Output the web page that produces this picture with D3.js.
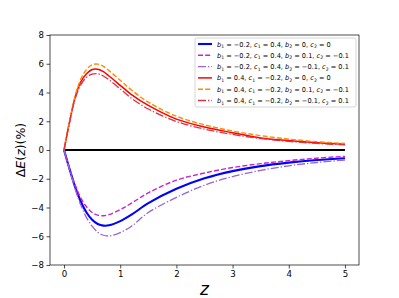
<!DOCTYPE html>
<html>
<head>
<meta charset="utf-8">
<script src="https://cdn.jsdelivr.net/npm/d3@7"></script>
<style>
  body { margin: 0; background: #fff; }
  svg { display: block; font-family: "DejaVu Sans", sans-serif; }
</style>
</head>
<body>
<svg id="chart" width="399" height="298"></svg>
<script>
// z nodes and read-off values (percent)
var zVals = [0, 0.1, 0.2, 0.3, 0.4, 0.5, 0.6, 0.7, 0.8, 1.0, 1.2, 1.5, 2.0, 2.5, 3.0, 3.5, 4.0, 4.5, 5.0];

var blueSolid = [0, -1.35, -2.6, -3.6, -4.35, -4.85, -5.15, -5.26, -5.24, -4.95, -4.5, -3.7, -2.7, -1.97, -1.47, -1.12, -0.88, -0.7, -0.57];
var magentaDash = [0, -1.3, -2.45, -3.35, -3.95, -4.35, -4.53, -4.57, -4.5, -4.15, -3.7, -2.98, -2.1, -1.6, -1.22, -0.95, -0.74, -0.57, -0.44];
var purpleDashDot = [0, -1.4, -2.75, -3.85, -4.7, -5.3, -5.72, -5.93, -5.98, -5.75, -5.3, -4.35, -3.3, -2.45, -1.85, -1.42, -1.1, -0.87, -0.7];
var redSolid = [0, 2.0, 3.7, 4.75, 5.3, 5.6, 5.62, 5.45, 5.15, 4.5, 3.85, 3.1, 2.15, 1.6, 1.2, 0.84, 0.66, 0.51, 0.4];
var orangeDash = [0, 2.05, 3.8, 4.95, 5.6, 5.93, 5.97, 5.82, 5.52, 4.85, 4.17, 3.33, 2.35, 1.75, 1.32, 1.0, 0.76, 0.58, 0.45];
var redDashDot = [0, 1.95, 3.6, 4.55, 5.05, 5.27, 5.3, 5.15, 4.88, 4.25, 3.6, 2.85, 1.98, 1.45, 1.08, 0.8, 0.6, 0.46, 0.36];

var xTicks = [0, 1, 2, 3, 4, 5];
var yTicks = [-8, -6, -4, -2, 0, 2, 4, 6, 8];

// legend labels: [b1, c1, b2, c2]
var labelParams = [
    ["\u22120.2", "0.4", "0", "0"],
    ["\u22120.2", "0.4", "0.1", "\u22120.1"],
    ["\u22120.2", "0.4", "\u22120.1", "0.1"],
    ["0.4", "\u22120.2", "0", "0"],
    ["0.4", "\u22120.2", "0.1", "\u22120.1"],
    ["0.4", "\u22120.2", "\u22120.1", "0.1"]
];

var series = [
    { values: blueSolid, color: "#0000ff", width: 2.1, dash: null },
    { values: magentaDash, color: "#cc22cc", width: 1.4, dash: "5,2.2" },
    { values: purpleDashDot, color: "#9966cc", width: 1.3, dash: "8,2,1.3,2" },
    { values: redSolid, color: "#ff0000", width: 1.5, dash: null },
    { values: orangeDash, color: "#ff8c00", width: 1.4, dash: "5,2.2" },
    { values: redDashDot, color: "#dd3344", width: 1.3, dash: "8,2,1.3,2" }
];

var margin = { top: 35, right: 40, bottom: 33, left: 50 };
var width = 399 - margin.left - margin.right;
var height = 298 - margin.top - margin.bottom;

var svg = d3.select("#chart");
var graph = svg.append("g")
    .attr("transform", "translate(" + margin.left + "," + margin.top + ")");

var x = d3.scaleLinear().domain([-0.25, 5.25]).range([0, width]);
var y = d3.scaleLinear().domain([-8, 8]).range([height, 0]);

// zero line
graph.append("line")
    .attr("x1", x(0)).attr("x2", x(5))
    .attr("y1", y(0)).attr("y2", y(0))
    .attr("stroke", "#000")
    .attr("stroke-width", 2);

var line = d3.line()
    .x(function(d, i) { return x(zVals[i]); })
    .y(function(d) { return y(d); })
    .curve(d3.curveCatmullRom.alpha(0.5));

series.forEach(function(s) {
    graph.append("path")
        .attr("d", line(s.values))
        .attr("fill", "none")
        .attr("stroke", s.color)
        .attr("stroke-width", s.width)
        .attr("stroke-dasharray", s.dash);
});

// axes
var fmt = function(d) { return d < 0 ? "\u2212" + Math.abs(d) : String(d); };
var xAxis = d3.axisBottom(x).tickValues(xTicks).tickSize(3.5).tickPadding(2.5).tickFormat(fmt);
var yAxis = d3.axisLeft(y).tickValues(yTicks).tickSize(3.5).tickPadding(2.5).tickFormat(fmt);

var xAxisGroup = graph.append("g")
    .attr("transform", "translate(0," + height + ")")
    .call(xAxis);
var yAxisGroup = graph.append("g").call(yAxis);

[xAxisGroup, yAxisGroup].forEach(function(g) {
    g.select(".domain").remove();
    g.selectAll("line").attr("stroke", "#000").attr("stroke-width", 0.7);
    g.selectAll("text")
        .attr("font-family", "DejaVu Sans, sans-serif")
        .attr("font-size", "8.6px")
        .attr("fill", "#000");
});

// frame
graph.append("rect")
    .attr("width", width).attr("height", height)
    .attr("fill", "none")
    .attr("stroke", "#000")
    .attr("stroke-width", 0.7);

// axis labels
svg.append("text")
    .attr("x", margin.left + x(2.5))
    .attr("y", 295)
    .attr("text-anchor", "middle")
    .attr("font-size", "17px")
    .attr("font-style", "italic")
    .text("z");

var yLabel = svg.append("text")
    .attr("transform", "translate(25," + (margin.top + height / 2) + ") rotate(-90)")
    .attr("text-anchor", "middle")
    .attr("font-size", "12.5px");
yLabel.append("tspan").text("\u0394");
yLabel.append("tspan").attr("font-style", "italic").text("E");
yLabel.append("tspan").text("(");
yLabel.append("tspan").attr("font-style", "italic").text("z");
yLabel.append("tspan").text(")(%)");

// legend
var legend = svg.append("g").attr("transform", "translate(195,38)");
legend.append("rect")
    .attr("width", 161).attr("height", 69)
    .attr("rx", 2)
    .attr("fill", "#fff")
    .attr("fill-opacity", 0.8)
    .attr("stroke", "#ccc")
    .attr("stroke-width", 0.8);

var rowH = 11.3;
series.forEach(function(s, i) {
    var row = legend.append("g").attr("transform", "translate(0," + (6 + i * rowH) + ")");
    row.append("line")
        .attr("x1", 3).attr("x2", 17)
        .attr("y1", 0).attr("y2", 0)
        .attr("stroke", s.color)
        .attr("stroke-width", s.width)
        .attr("stroke-dasharray", s.dash);

    var p = labelParams[i];
    var t = row.append("text")
        .attr("x", 22)
        .attr("y", 2.5)
        .attr("font-size", "6.6px")
        .attr("fill", "#000");
    var names = ["b", "c", "b", "c"];
    var subs = ["1", "1", "2", "2"];
    names.forEach(function(n, k) {
        t.append("tspan").attr("font-style", "italic").text(n);
        t.append("tspan").attr("font-size", "4.6px").attr("dy", 1.5).text(subs[k]);
        t.append("tspan").attr("dy", -1.5).text(" = " + p[k] + (k < 3 ? ", " : ""));
    });
});
</script>
</body>
</html>
